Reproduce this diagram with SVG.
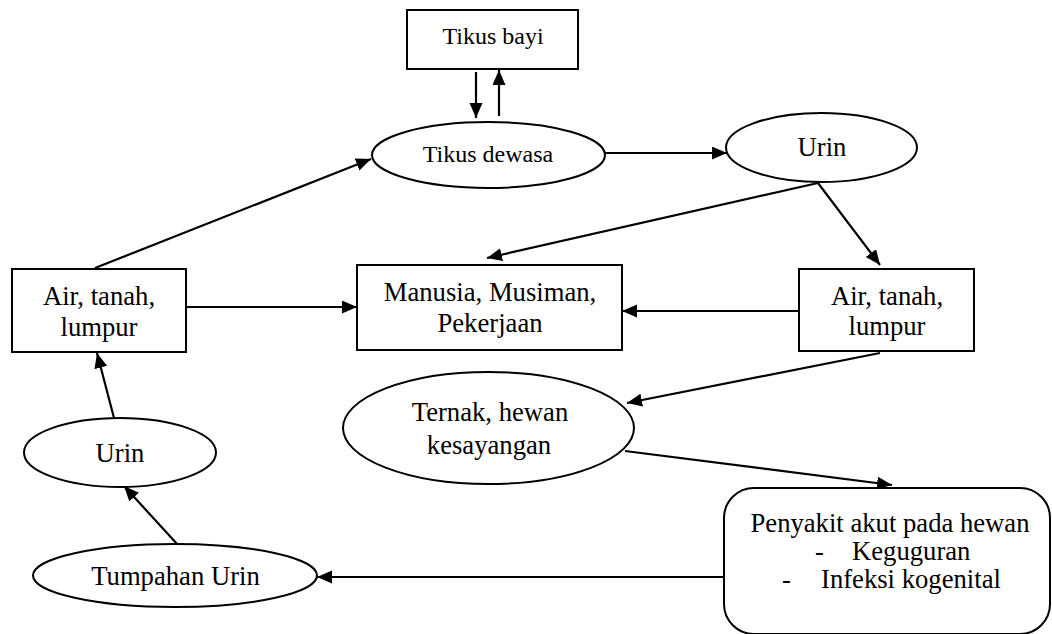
<svg xmlns="http://www.w3.org/2000/svg" width="1052" height="634" viewBox="0 0 1052 634" font-family="Liberation Serif, Times New Roman, serif">
<style>
.box{fill:#fff;stroke:#000;stroke-width:2}
.ell{fill:#fff;stroke:#000;stroke-width:2}
text{font-family:'Liberation Serif','Times New Roman',serif;font-size:26.67px;fill:#000;text-anchor:middle}
.s{font-size:24px}
.ts{text-anchor:start}
.c{fill:none;stroke:#000;stroke-width:2.2}
</style>
<defs>
<marker id="ah" markerUnits="userSpaceOnUse" markerWidth="16" markerHeight="14" refX="15" refY="6.5" orient="auto">
<path d="M0,0 L15,6.5 L0,13 z" fill="#000"/>
</marker>
</defs>
<g id="connectors">
<line class="c" x1="476" y1="72" x2="476" y2="118" marker-end="url(#ah)"/>
<line class="c" x1="499" y1="116" x2="499" y2="70" marker-end="url(#ah)"/>
<line class="c" x1="605" y1="153" x2="727" y2="153" marker-end="url(#ah)"/>
<line class="c" x1="818" y1="183" x2="487" y2="258" marker-end="url(#ah)"/>
<line class="c" x1="818" y1="183" x2="880" y2="265" marker-end="url(#ah)"/>
<line class="c" x1="799" y1="311" x2="622" y2="311" marker-end="url(#ah)"/>
<line class="c" x1="186" y1="307" x2="357" y2="307" marker-end="url(#ah)"/>
<line class="c" x1="95" y1="268" x2="371" y2="159" marker-end="url(#ah)"/>
<line class="c" x1="880" y1="353" x2="627" y2="403" marker-end="url(#ah)"/>
<line class="c" x1="625" y1="451" x2="892" y2="485" marker-end="url(#ah)"/>
<line class="c" x1="724" y1="577" x2="317" y2="577" marker-end="url(#ah)"/>
<line class="c" x1="114" y1="418" x2="97" y2="353" marker-end="url(#ah)"/>
<line class="c" x1="178" y1="545" x2="124" y2="486" marker-end="url(#ah)"/>
</g>
<g id="tikus-bayi">
<rect class="box" x="407" y="10" width="171" height="59"/>
<text class="s" x="493" y="44">Tikus bayi</text>
</g>
<g id="tikus-dewasa">
<ellipse class="ell" cx="488.5" cy="155" rx="116.5" ry="33"/>
<text class="s" x="488" y="162">Tikus dewasa</text>
</g>
<g id="urin-atas">
<ellipse class="ell" cx="821.5" cy="147.5" rx="95.5" ry="34.5"/>
<text x="822" y="156">Urin</text>
</g>
<g id="manusia">
<rect class="box" x="357" y="265" width="265" height="85"/>
<text x="490" y="301">Manusia, Musiman,</text>
<text x="490" y="332">Pekerjaan</text>
</g>
<g id="air-kiri">
<rect class="box" x="12" y="269" width="174" height="83"/>
<text x="99" y="305">Air, tanah,</text>
<text x="99" y="336">lumpur</text>
</g>
<g id="air-kanan">
<rect class="box" x="799" y="269" width="175" height="82"/>
<text x="887" y="305">Air, tanah,</text>
<text x="887" y="335">lumpur</text>
</g>
<g id="ternak">
<ellipse class="ell" cx="488.5" cy="428" rx="145.5" ry="56"/>
<text x="490" y="421">Ternak, hewan</text>
<text x="489" y="454">kesayangan</text>
</g>
<g id="urin-kiri">
<ellipse class="ell" cx="120" cy="452.5" rx="96" ry="34.5"/>
<text x="120" y="462">Urin</text>
</g>
<g id="tumpahan-urin">
<ellipse class="ell" cx="175" cy="575.5" rx="142" ry="31.5"/>
<text x="175.5" y="585">Tumpahan Urin</text>
</g>
<g id="penyakit">
<rect class="box" x="724" y="488" width="326" height="146" rx="30" ry="30"/>
<text x="890" y="532">Penyakit akut pada hewan</text>
<text class="ts" x="815" y="560">-</text>
<text class="ts" x="852" y="560">Keguguran</text>
<text class="ts" x="782" y="588">-</text>
<text class="ts" x="821" y="588">Infeksi kogenital</text>
</g>
</svg>
